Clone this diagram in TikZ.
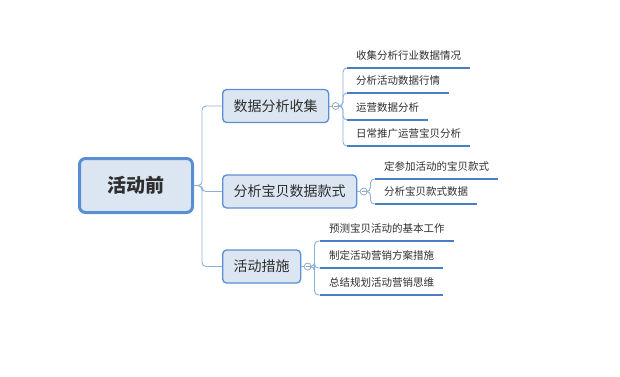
\documentclass[tikz,border=0pt]{standalone}
\usepackage{fontspec}
\setmainfont{Noto Sans CJK SC}
\usepackage{xcolor}
\usetikzlibrary{positioning, calc}

\definecolor{boxfill}{HTML}{DCE6F2}
\definecolor{boxline}{HTML}{5A8ED3}
\definecolor{linkcol}{HTML}{8DB0DB}
\definecolor{leafcol}{HTML}{4A7EC2}
\definecolor{txtcol}{HTML}{2E2E2E}

\begin{document}
\begin{tikzpicture}[
  x=1pt, y=-1pt,
  rootbox/.style={
    rectangle, rounded corners=6pt, draw=boxline, line width=3pt, fill=boxfill,
    minimum width=113pt, minimum height=54pt, font=\fontsize{19}{21}\selectfont\bfseries,
    text=txtcol
  },
  branch/.style={
    rectangle, rounded corners=4pt, draw=boxline, line width=1.3pt, fill=boxfill,
    minimum height=33pt, inner xsep=11pt, anchor=west, font=\fontsize{14}{16}\selectfont,
    text=txtcol
  },
  leaf/.style={
    inner xsep=9pt, inner ysep=0pt, minimum height=24pt, anchor=south west,
    font=\fontsize{10.5}{12}\selectfont, text=txtcol
  },
  fold/.style={circle, draw=linkcol!70!gray, fill=white, line width=0.7pt,
    minimum size=7pt, inner sep=0pt},
  link/.style={draw=linkcol, line width=0.9pt, rounded corners=4pt},
  underline/.style={draw=leafcol, line width=2pt}
]
\useasboundingbox (0,0) rectangle (620,376);

% ==================== NODES ====================
% Root
\node[rootbox] (root) at (136,185.5) {活动前};

% Branches
\node[branch] (collect) at (222,106) {数据分析收集};
\node[branch] (style) at (222,191.5) {分析宝贝数据款式};
\node[branch] (measure) at (222,266.5) {活动措施};

% Fold markers
\node[fold, right=2.5pt of collect] (f_collect) {};
\node[fold, right=2.5pt of style] (f_style) {};
\node[fold, right=2.5pt of measure] (f_measure) {};
\foreach \f in {f_collect, f_style, f_measure}
  \draw[linkcol!70!gray, line width=0.6pt] ([xshift=-1.6pt]\f.center) -- ([xshift=1.6pt]\f.center);

% Leaves of collect
\node[leaf] (c1) at (347,68) {收集分析行业数据情况};
\node[leaf] (c2) at (347,93) {分析活动数据行情};
\node[leaf] (c3) at (347,120) {运营数据分析};
\node[leaf] (c4) at (347,146) {日常推广运营宝贝分析};

% Leaves of style
\node[leaf] (s1) at (375,179) {定参加活动的宝贝款式};
\node[leaf] (s2) at (375,204) {分析宝贝款式数据};

% Leaves of measure
\node[leaf] (m1) at (320,241) {预测宝贝活动的基本工作};
\node[leaf] (m2) at (320,268) {制定活动营销方案措施};
\node[leaf] (m3) at (320,295) {总结规划活动营销思维};

% ==================== CONNECTIONS ====================
% Root to branches
\draw[link] (root.east) -- ++(8,0) |- (collect.west);
\draw[link] (root.east) -- ++(8,0) |- (style.west);
\draw[link] (root.east) -- ++(8,0) |- (measure.west);

% Branches to fold markers
\draw[link] (collect.east) -- (f_collect.west);
\draw[link] (style.east) -- (f_style.west);
\draw[link] (measure.east) -- (f_measure.west);

% Fold markers to leaves
\foreach \l in {c1, c2, c3, c4}
  \draw[link] (f_collect.east) -- ++(3.5,0) |- (\l.south west);
\foreach \l in {s1, s2}
  \draw[link] (f_style.east) -- ++(3,0) |- (\l.south west);
\foreach \l in {m1, m2, m3}
  \draw[link] (f_measure.east) -- ++(3,0) |- (\l.south west);

% Leaf underlines
\foreach \l in {c1, c2, c3, c4, s1, s2, m1, m2, m3}
  \draw[underline] (\l.south west) -- (\l.south east);
\end{tikzpicture}
\end{document}
